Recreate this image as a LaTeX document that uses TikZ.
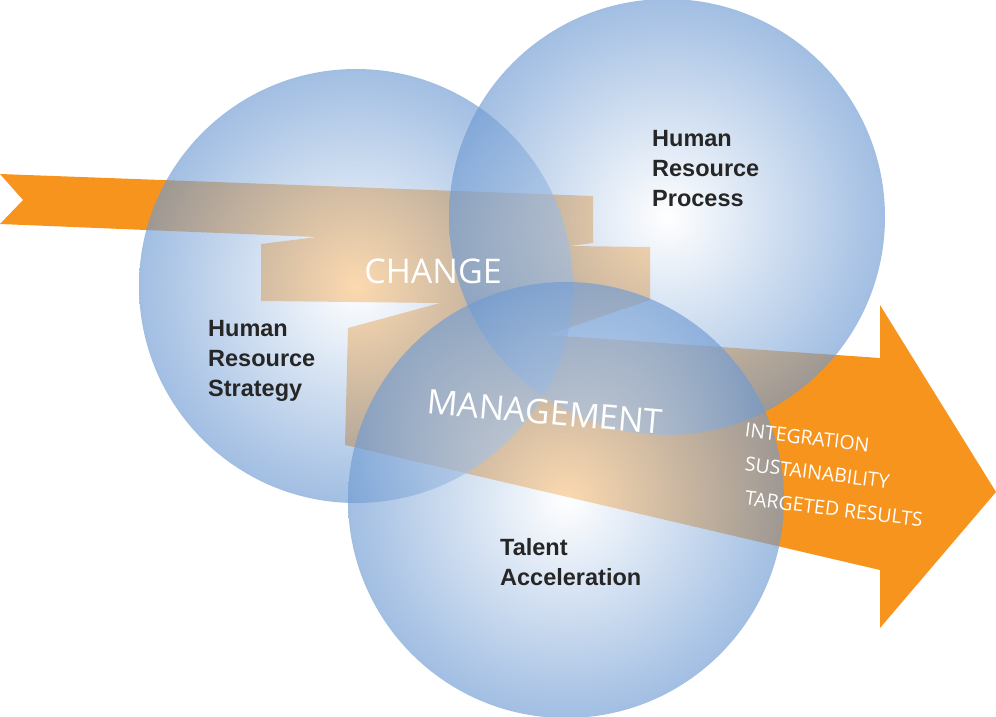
\documentclass[tikz,border=0pt]{standalone}
\usepackage{fontspec}
\setmainfont{Liberation Sans}
\newfontfamily\thin{Open Sans}
\definecolor{org}{HTML}{F7941D}
\definecolor{blu}{HTML}{6F9BD3}
\begin{document}
\begin{tikzpicture}[x=1pt,y=-1pt,
  ball/.style={inner color=white, outer color=blu, opacity=0.65},
  lbl/.style={font=\bfseries\fontsize{23.5}{30}\selectfont, text=black!85, align=left, anchor=north west, inner sep=0pt},
  big/.style={font=\thin\fontsize{34}{36}\selectfont, text=white, inner sep=0pt},
  res/.style={font=\thin\fontsize{19.5}{24}\selectfont, text=white, rotate=-7, anchor=west, inner sep=0pt}]
\useasboundingbox (0,0) rectangle (996,717);
% ribbon
\fill[org] (0,174) -- (593,196) -- (593,243) -- (569,246) -- (650,247) -- (650,300) -- (547,335)
  -- (880,358) -- (880,305) -- (996,492) -- (880,628) -- (880,570) -- (345,445) -- (348,328)
  -- (440,303) -- (261,301) -- (261,244) -- (317,237) -- (0,224) -- (23,200) -- cycle;
% circles
\shade[ball] (356,286) circle (217);
\shade[ball] (667,217) circle (218);
\shade[ball] (566,500) circle (218);
\node[lbl] (p) at (652,130) {Human\\Resource\\Process};
\node[lbl] (s) at (208,320) {Human\\Resource\\Strategy};
\node[lbl] (t) at (500,538) {Talent\\Acceleration};
\node[big] (ch) at (433,271) {CHANGE};
\node[big,rotate=-5] (m) at (545,412) {MANAGEMENT};
\node[res] (r1) at (745,430) {INTEGRATION};
\node[res] (r2) at (745,464) {SUSTAINABILITY};
\node[res] (r3) at (745,498) {TARGETED RESULTS};
\end{tikzpicture}
\end{document}
